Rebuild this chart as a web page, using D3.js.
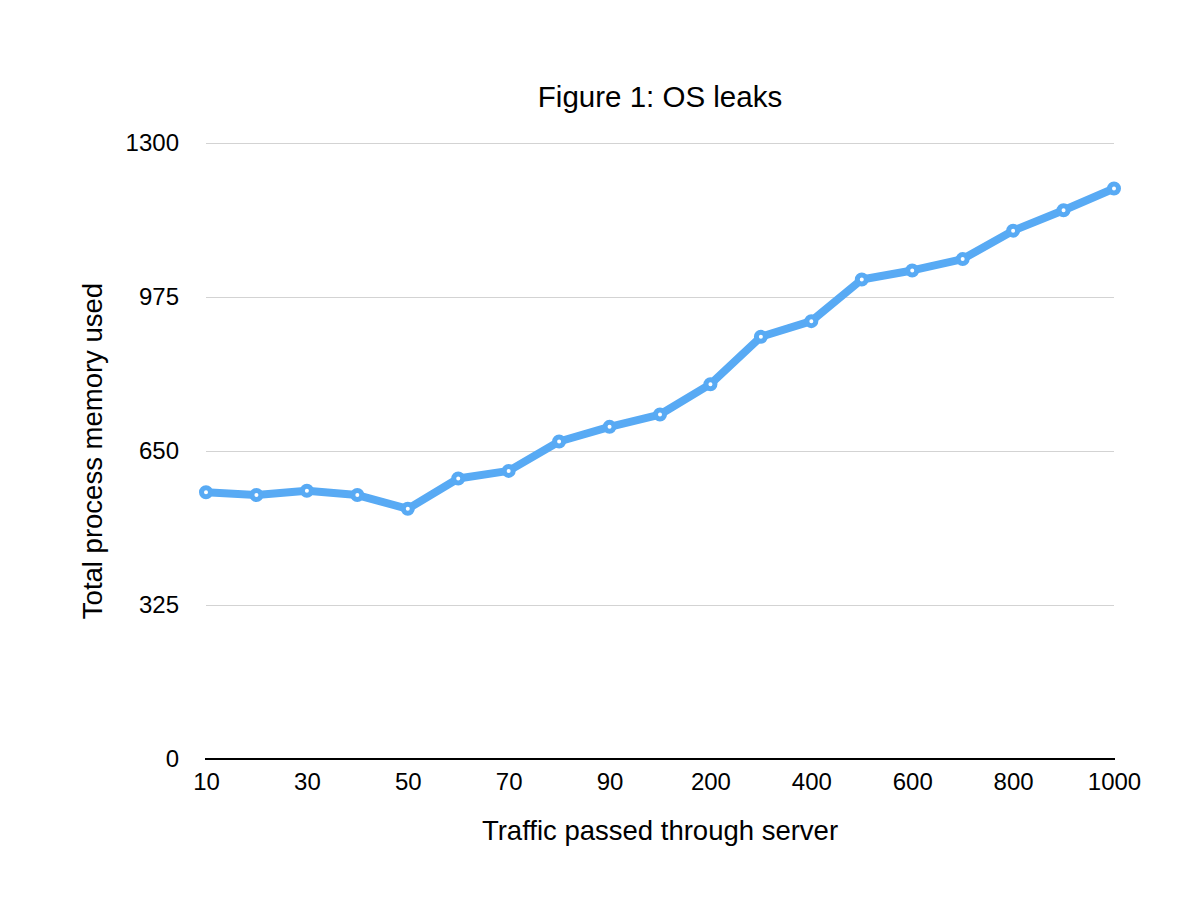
<!DOCTYPE html>
<html>
<head>
<meta charset="utf-8">
<script src="https://cdn.jsdelivr.net/npm/d3@7"></script>
<style>
  html, body { margin: 0; padding: 0; background: #fff; }
  svg { display: block; }
  text { font-family: "Liberation Sans", Arial, Helvetica, sans-serif; fill: #000; }
</style>
</head>
<body>
<svg id="chart" width="1200" height="900"></svg>
<script>
const categories = ["10","20","30","40","50","60","70","80","90","100","200","300","400","500","600","700","800","900","1000"];
const memoryValues = [563, 557, 566, 557, 528, 592, 608, 670, 701, 727, 791, 891, 924, 1012, 1031, 1055, 1115, 1158, 1204];
const xTickLabels = ["10","30","50","70","90","200","400","600","800","1000"];
const yTickValues = [0, 325, 650, 975, 1300];
const titleText = "Figure 1: OS leaks";
const xTitle = "Traffic passed through server";
const yTitle = "Total process memory used";

const svg = d3.select("#chart");
const plotLeft = 206, plotRight = 1114, plotTop = 143, plotBottom = 759;

const x = d3.scalePoint().domain(categories).range([plotLeft, plotRight]);
const y = d3.scaleLinear().domain([0, 1300]).range([plotBottom, plotTop]);

// gridlines
svg.append("g")
  .selectAll("line")
  .data(yTickValues.filter(v => v > 0))
  .join("line")
  .attr("x1", plotLeft).attr("x2", plotRight)
  .attr("y1", d => y(d)).attr("y2", d => y(d))
  .attr("stroke", "#d3d3d3").attr("stroke-width", 1)
  .attr("shape-rendering", "crispEdges");

// y axis labels
const yAxis = d3.axisLeft(y).tickValues(yTickValues).tickFormat(d3.format("d")).tickSize(0).tickPadding(0);
const yg = svg.append("g").attr("transform", `translate(${plotLeft - 27},0)`).call(yAxis);
yg.select(".domain").remove();
yg.selectAll("text").style("font-size", "24px").attr("fill", "#000")
  .style("font-family", '"Liberation Sans", Arial, sans-serif');

// x axis
const xAxis = d3.axisBottom(x).tickValues(xTickLabels).tickSize(0).tickPadding(0);
const xg = svg.append("g").attr("transform", `translate(0,${plotBottom})`).call(xAxis);
xg.select(".domain").remove();
xg.selectAll("text").attr("dy", null).attr("y", 31).style("font-size", "24px").attr("fill", "#000")
  .style("font-family", '"Liberation Sans", Arial, sans-serif');

// baseline
svg.append("line")
  .attr("x1", plotLeft - 1).attr("x2", plotRight + 1)
  .attr("y1", y(0)).attr("y2", y(0))
  .attr("stroke", "#000").attr("stroke-width", 2);

// line
const data = categories.map((c, i) => ({c, v: memoryValues[i]}));
const lineGen = d3.line().x(d => x(d.c)).y(d => y(d.v));
svg.append("path")
  .datum(data)
  .attr("d", lineGen)
  .attr("fill", "none")
  .attr("stroke", "#58aaf4")
  .attr("stroke-width", 8)
  .attr("stroke-linejoin", "round")
  .attr("stroke-linecap", "round");

svg.append("g")
  .selectAll("circle")
  .data(data)
  .join("circle")
  .attr("cx", d => x(d.c)).attr("cy", d => y(d.v))
  .attr("r", 4.5)
  .attr("fill", "#fff")
  .attr("stroke", "#58aaf4")
  .attr("stroke-width", 5);

// titles
svg.append("text")
  .attr("x", (plotLeft + plotRight) / 2).attr("y", 107)
  .attr("text-anchor", "middle")
  .style("font-size", "29.5px")
  .text(titleText);

svg.append("text")
  .attr("x", (plotLeft + plotRight) / 2).attr("y", 840)
  .attr("text-anchor", "middle")
  .style("font-size", "27.5px")
  .text(xTitle);

svg.append("text")
  .attr("transform", `translate(102,${(plotTop + plotBottom) / 2}) rotate(-90)`)
  .attr("text-anchor", "middle")
  .style("font-size", "27.5px")
  .text(yTitle);
</script>
</body>
</html>
